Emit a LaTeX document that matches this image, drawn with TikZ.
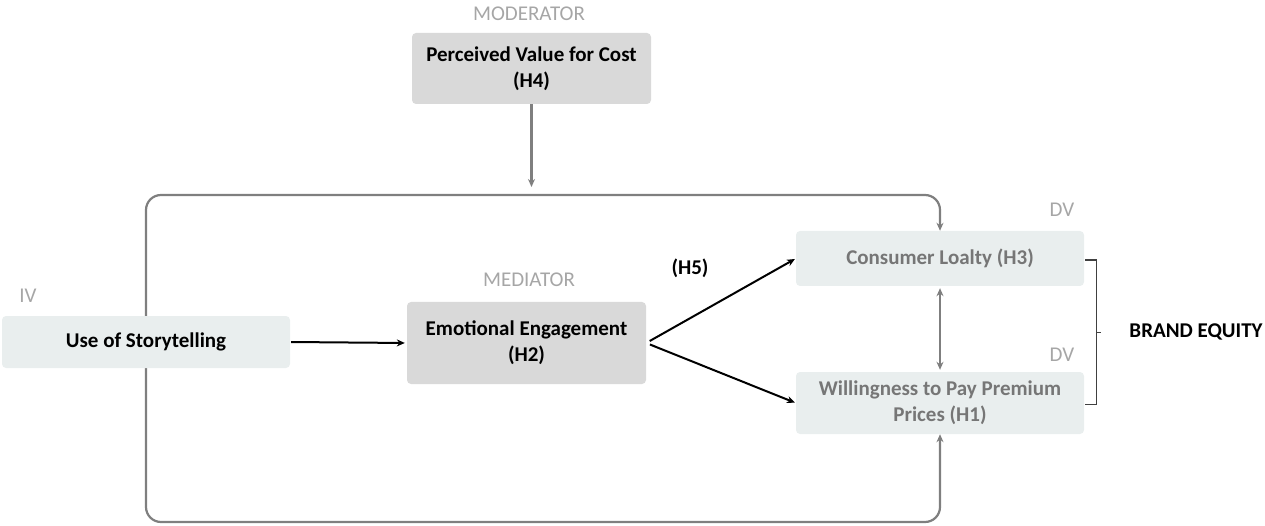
\documentclass[tikz,border=0pt]{standalone}
\usepackage{fontspec}
\setmainfont{Carlito}
\usetikzlibrary{arrows.meta,backgrounds,calc}
\definecolor{boxgray}{HTML}{D9D9D9}
\definecolor{boxlight}{HTML}{E9EEEE}
\definecolor{labgray}{HTML}{A6A6A6}
\definecolor{lingray}{HTML}{7F7F7F}
\definecolor{txtgray}{HTML}{767676}
\begin{document}
\begin{tikzpicture}[x=1pt,y=-1pt,
 box/.style={rounded corners=4pt, inner sep=0pt, align=center, font=\fontsize{21}{26}\selectfont\bfseries},
 darkbox/.style={box, fill=boxgray, text=black},
 lightbox/.style={box, fill=boxlight},
 tag/.style={text=labgray, inner sep=0pt, font=\fontsize{21}{26}\selectfont},
 boldtag/.style={text=black, inner sep=0pt, font=\fontsize{21}{26}\selectfont\bfseries},
 blackarrow/.style={draw=black, line width=2pt, -{Stealth[length=8pt,width=7pt]}},
 grayline/.style={draw=lingray, line width=2.2pt},
 bracket/.style={draw=black!75, line width=1.3pt},
]
\useasboundingbox (0,0) rectangle (1265,526);

% boxes
\node[darkbox, minimum width=239pt, minimum height=71pt] (mod) at (531.5,68.5) {Perceived Value for Cost\\(H4)};
\node[lightbox, text=black, minimum width=288pt, minimum height=52pt] (story) at (146,342) {Use of Storytelling};
\node[darkbox, minimum width=239pt, minimum height=82pt] (emo) at (526.5,343) {Emotional Engagement\\(H2)};
\node[lightbox, text=txtgray, minimum width=288pt, minimum height=55pt] (cons) at (940,258.5) {Consumer Loalty (H3)};
\node[lightbox, text=txtgray, minimum width=288pt, minimum height=62pt] (will) at (940,403) {Willingness to Pay Premium\\Prices (H1)};

% labels
\node[tag] (lmod) at (529,14) {MODERATOR};
\node[tag] (lmed) at (529,280) {MEDIATOR};
\node[tag] (liv) at (28,296) {IV};
\node[tag] (ldv1) at (1062,210) {DV};
\node[tag] (ldv2) at (1062,355) {DV};
\node[boldtag] (h5) at (690,268) {(H5)};
\node[boldtag] (be) at (1196,332) {BRAND EQUITY};

% loop (behind boxes)
\begin{pgfonlayer}{background}
\draw[grayline, rounded corners=15pt, {Stealth[length=8pt,width=7pt]}-{Stealth[length=8pt,width=7pt]}]
  (cons.north) |- (146,195) -- (146,522) -| (will.south);
\end{pgfonlayer}

% moderator arrow
\coordinate (modend) at (531.5,187);
\draw[grayline, -{Stealth[length=8pt,width=7pt]}] (mod.south) -- (modend);

% main arrows
\draw[blackarrow, shorten <=1pt, shorten >=2pt] (story.east) -- (emo.west);
\draw[blackarrow, shorten <=4pt, shorten >=1pt] (emo.east) -- (cons.west);
\draw[blackarrow, shorten <=4pt, shorten >=1pt] (emo.east) -- (will.west);
\draw[grayline, {Stealth[length=8pt,width=7pt]}-{Stealth[length=8pt,width=7pt]}, shorten <=2pt, shorten >=2pt] (cons.south) -- (will.north);

% bracket
\draw[bracket] ([shift={(1,1.5)}]cons.east) -| ([shift={(12,1.5)}]will.east) -- ([shift={(1,1.5)}]will.east);
\coordinate (bm) at ($([shift={(12,1.5)}]cons.east)!0.5!([shift={(12,1.5)}]will.east)$);
\draw[bracket] (bm) -- ++(5,0);
\end{tikzpicture}
\end{document}
